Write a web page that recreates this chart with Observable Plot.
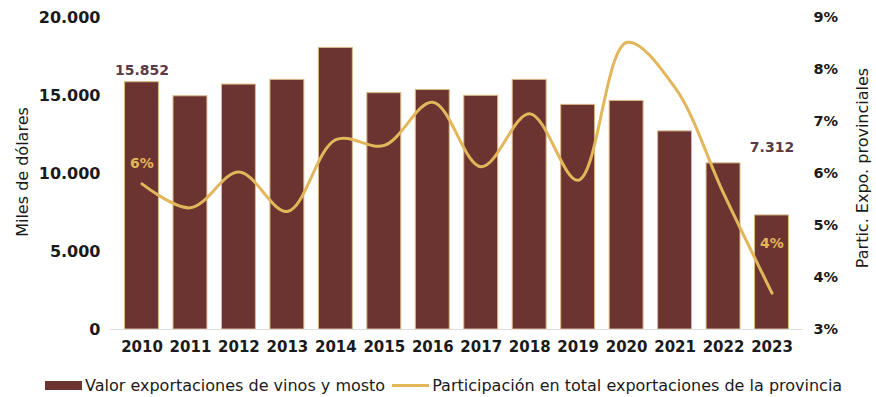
<!DOCTYPE html>
<html><head><meta charset="utf-8">
<script src="https://cdn.jsdelivr.net/npm/d3@7"></script>
<script src="https://cdn.jsdelivr.net/npm/@observablehq/plot@0.6"></script>
<style>
body{margin:0;background:#fff;font-family:"DejaVu Sans",sans-serif;}
#wrap{position:relative;width:876px;height:397px;overflow:hidden;}
#legend{position:absolute;left:45px;top:376px;font-size:16px;color:#1a1a1a;white-space:nowrap;display:flex;align-items:center;}
.sw{display:inline-block;width:37px;margin-right:3px;}
.ttl{position:absolute;font-size:16px;color:#1a1a1a;white-space:nowrap;transform:translate(-50%,-50%) rotate(-90deg);}
</style></head><body><div id="wrap"></div>
<script>
const years = ["2010","2011","2012","2013","2014","2015","2016","2017","2018","2019","2020","2021","2022","2023"];
const valores = [15852,14950,15700,16000,18050,15150,15350,14980,16000,14400,14650,12700,10650,7312];
const participacion = [5.8,5.34,6.03,5.27,6.65,6.54,7.37,6.13,7.15,5.87,8.52,7.65,5.62,3.7];
const leftTicks = [0,5000,10000,15000,20000];
const rightTicks = [3,4,5,6,7,8,9];
const serieBarras = "Valor exportaciones de vinos y mosto";
const serieLinea = "Participación en total exportaciones de la provincia";
const tituloIzq = "Miles de dólares";
const tituloDer = "Partic. Expo. provinciales";

const BAR = "#6b3431", GOLD = "#e2b65a", LABEL = "#5a3a45";
const loc = d3.formatLocale({decimal:",", thousands:".", grouping:[3], currency:["$",""]});
const fmt = loc.format(",");
const pMin = 3, pMax = 9, yMax = 20000;
const toY = p => (p - pMin) / (pMax - pMin) * yMax;
const fromY = v => v / yMax * (pMax - pMin) + pMin;

const data = years.map((y, i) => ({year: y, valor: valores[i], pct: participacion[i]}));
const first = data[0], last = data[data.length - 1];

const chart = Plot.plot({
  width: 876, height: 365,
  marginTop: 17, marginBottom: 36, marginLeft: 110, marginRight: 73,
  style: {fontFamily: "DejaVu Sans, sans-serif", fontSize: "15px", color: "#1a1a1a", background: "#fff"},
  x: {domain: years, padding: 0.3, round: false, label: null},
  y: {domain: [0, yMax], label: null},
  marks: [
    Plot.barY(data, {x: "year", y: "valor", fill: BAR, stroke: "#dcb985", strokeWidth: 1}),
    Plot.ruleY([0], {stroke: "#dddddd"}),
    Plot.line(data, {x: "year", y: d => toY(d.pct), stroke: GOLD, strokeWidth: 3, curve: "catmull-rom"}),
    Plot.axisX({tickSize: 0, tickPadding: 12, fontWeight: "bold", fontSize: 15, label: null}),
    Plot.axisY(leftTicks, {anchor: "left", tickSize: 0, tickPadding: 10, tickFormat: fmt, fontWeight: "bold", fontSize: 16, label: null}),
    Plot.axisY(rightTicks.map(toY), {anchor: "right", tickSize: 0, tickPadding: 10, tickFormat: v => Math.round(fromY(v)) + "%", fontWeight: "bold", fontSize: 14.5, label: null}),
    Plot.text([first], {x: "year", y: "valor", text: d => fmt(d.valor), dy: -12, fill: LABEL, fontWeight: "bold", fontSize: 14}),
    Plot.text([last], {x: "year", y: "valor", text: d => fmt(d.valor), dy: -68, fill: LABEL, fontWeight: "bold", fontSize: 14}),
    Plot.text([first], {x: "year", y: d => toY(d.pct), text: d => Math.round(d.pct) + "%", dy: -20, fill: GOLD, fontWeight: "bold", fontSize: 14}),
    Plot.text([last], {x: "year", y: d => toY(d.pct), text: d => Math.round(d.pct) + "%", dy: -50, fill: GOLD, fontWeight: "bold", fontSize: 14})
  ]
});
const wrap = document.getElementById("wrap");
wrap.appendChild(chart);
const t1 = document.createElement("div");
t1.className = "ttl"; t1.textContent = tituloIzq; t1.style.left = "22px"; t1.style.top = "172px";
wrap.appendChild(t1);
const t2 = document.createElement("div");
t2.className = "ttl"; t2.textContent = tituloDer; t2.style.left = "862px"; t2.style.top = "168px";
wrap.appendChild(t2);
const lg = document.createElement("div");
lg.id = "legend";
lg.innerHTML = `<span class="sw" style="height:9px;background:${BAR}"></span><span>${serieBarras}</span>` +
  `<span class="sw" style="height:3px;background:${GOLD};margin-left:7px"></span><span>${serieLinea}</span>`;
wrap.appendChild(lg);
</script>
</body></html>
